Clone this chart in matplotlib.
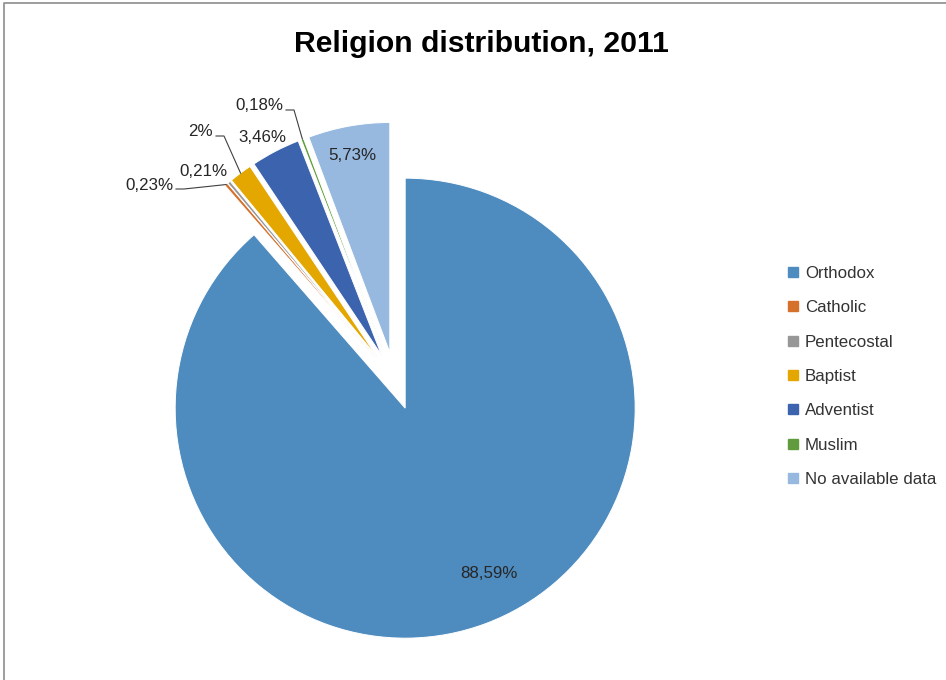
import matplotlib

matplotlib.use("Agg")
import matplotlib.pyplot as plt
import numpy as np
from matplotlib.lines import Line2D

# data
religions = ["Orthodox", "Catholic", "Pentecostal", "Baptist",
             "Adventist", "Muslim", "No available data"]
shares = [88.59, 0.23, 0.21, 1.6, 3.46, 0.18, 5.73]
share_labels = ["88,59%", "0,23%", "0,21%", "2%", "3,46%", "0,18%", "5,73%"]
colors = ["#4E8BBF", "#D5712B", "#979797", "#E3A700",
          "#3C64AE", "#609C3D", "#97B9E0"]

plt.rcParams["font.family"] = ["Liberation Sans", "DejaVu Sans"]

W, H = 946, 680
fig = plt.figure(figsize=(W / 100, H / 100), dpi=100)
ax = fig.add_axes([0, 0, 1, 1])

# pixel-like coordinates, y up
cx, cy, r = 395, 299, 230
wedges, _ = ax.pie(shares, colors=colors, startangle=90, counterclock=False,
                   center=(cx, cy), radius=r, explode=[29] * len(shares),
                   wedgeprops=dict(edgecolor="white", linewidth=0.7))
ax.set_xlim(0, W)
ax.set_ylim(0, H)
ax.set_aspect("equal")
ax.axis("off")


def outer_mid(w):
    """Middle of the outer arc of a wedge (where the leader lines end)."""
    t = np.deg2rad((w.theta1 + w.theta2) / 2)
    x0, y0 = w.center
    return x0 + w.r * np.cos(t), y0 + w.r * np.sin(t)


# label placement: (x, y, leader?)  -- x is the right edge for leader labels
label_pos = {
    0: (489, 106, False),
    1: (173, 495, True),
    2: (203, 509, False),
    3: (213, 548, True),
    4: (262, 543, False),
    5: (283, 574, True),
    6: (352, 525, False),
}
txt = dict(fontsize=12.2, color="#262626", va="center")
for i, (x, y, leader) in label_pos.items():
    if leader:
        ax.text(x, y, share_labels[i], ha="right", **txt)
        ex, ey = outer_mid(wedges[i])
        ly = y - 4
        ax.plot([x + 3, x + 11, ex], [ly, ly, ey], color="#404040", lw=0.8)
    else:
        ax.text(x, y, share_labels[i], ha="center", **txt)

ax.text(481, H - 44, "Religion distribution, 2011", ha="center", va="center",
        fontsize=21.7, fontweight="bold", color="black")

handles = [Line2D([], [], ls="", marker="s", markersize=7, color=c) for c in colors]
ax.legend(handles, religions, loc="center left", bbox_to_anchor=(786, 303.5),
          bbox_transform=ax.transData, frameon=False, fontsize=12.2,
          handlelength=0.8, handletextpad=0.32, labelspacing=1.14,
          borderpad=0, borderaxespad=0, labelcolor="#333333")

# chart area border (only top and left edges are visible in the reference)
ax.plot([4, 4, W], [0, H - 3, H - 3], color="#8C8C8C", lw=1.2, clip_on=False)

fig.savefig("out.png", dpi=100)
